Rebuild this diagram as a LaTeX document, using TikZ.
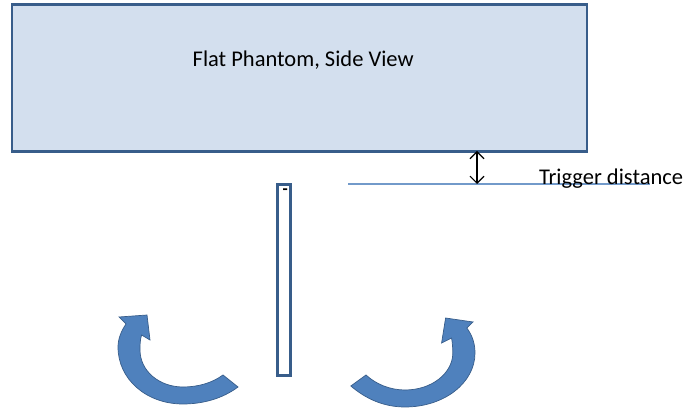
\documentclass[tikz,border=0pt]{standalone}
\usepackage{fontspec}
\setmainfont{Carlito}
\usetikzlibrary{arrows.meta, positioning}
\definecolor{edgeblue}{HTML}{385D8A}
\definecolor{turnblue}{HTML}{4F81BD}
\definecolor{phantomblue}{HTML}{D3DFEE}
\tikzset{
  turn/.style={fill=turnblue, draw=edgeblue, line width=0.5pt},
  label/.style={font=\fontsize{16}{18}\selectfont, inner sep=0pt},
}

\begin{document}
\begin{tikzpicture}[>={Straight Barb[length=5pt,width=10pt]}]
\useasboundingbox (0,0) rectangle (17.175,10.225);

\node[draw=edgeblue, fill=phantomblue, line width=1.8pt, minimum width=14.375cm, minimum height=3.675cm, anchor=north west, inner sep=0pt] (phantom) at (0.27,10.14) {};
\node[label] (phantom-text) at (7.58,8.72) {Flat Phantom, Side View};

\node[draw=edgeblue, line width=2.2pt, minimum width=0.33cm, minimum height=4.78cm, anchor=north west, inner sep=0pt] (bar) at (6.89,5.66) {};
\node[font=\bfseries\fontsize{12}{12}\selectfont, inner sep=0pt] (bar-mark) at (7.13,5.43) {-};

\coordinate (level-start) at (8.7,5.625);
\coordinate (level-end) at (16.25,5.625);
\draw[turnblue!80, line width=0.8pt] (level-start) -- (level-end);
\node[label, anchor=west] (trigger) at (13.47,5.75) {Trigger distance};

\coordinate (gap-top) at (11.925,6.45);
\coordinate (gap-bottom) at (11.925,5.625);
\draw[<->, line width=0.8pt] (gap-top) -- (gap-bottom);

\draw[turn] (5.95,.55) .. controls (5.55,.25) and (5.05,.125) .. (4.575,.125)
  .. controls (3.65,.125) and (2.95,.75) .. (2.95,1.55)
  .. controls (2.95,1.75) and (3.03,1.95) .. (3.15,2.125)
  -- (2.975,2.3) -- (3.675,2.35) -- (3.75,1.725) -- (3.54,1.85)
  .. controls (3.5,1.72) and (3.5,1.6) .. (3.5,1.475)
  .. controls (3.5,.95) and (3.98,.55) .. (4.575,.55)
  .. controls (4.95,.55) and (5.3,.65) .. (5.575,.85) -- cycle;

\draw[turn] (8.77,.575) .. controls (9.15,.25) and (9.6,.05) .. (10.125,.05)
  .. controls (11.1,.05) and (11.875,.65) .. (11.875,1.4)
  .. controls (11.875,1.65) and (11.8,1.85) .. (11.67,2.025)
  -- (11.825,2.175) -- (11.14,2.275) -- (11.04,1.65) -- (11.29,1.775)
  .. controls (11.31,1.65) and (11.32,1.52) .. (11.32,1.4)
  .. controls (11.32,.9) and (10.8,.475) .. (10.125,.475)
  .. controls (9.75,.475) and (9.4,.62) .. (9.15,.85) -- cycle;

\end{tikzpicture}
\end{document}
